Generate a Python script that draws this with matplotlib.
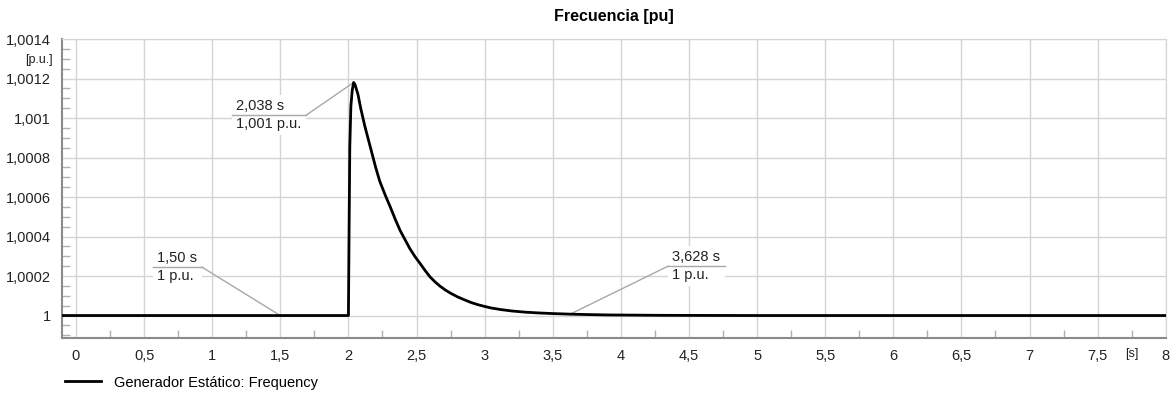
import matplotlib
matplotlib.use('Agg')
import matplotlib.pyplot as plt
from matplotlib.patches import Rectangle
import matplotlib.transforms as mtransforms

plt.rcParams['font.family'] = ['Liberation Sans', 'DejaVu Sans']

# datos
tiempo = [-0.1, 2.0, 2.004, 2.010, 2.018, 2.028, 2.038, 2.048, 2.07, 2.09, 2.12, 2.16,
          2.20, 2.23, 2.27, 2.31, 2.345, 2.38, 2.415, 2.45, 2.49, 2.53, 2.565, 2.60,
          2.635, 2.67, 2.71, 2.75, 2.80, 2.85, 2.90, 2.95, 3.0, 3.05, 3.12, 3.2, 3.3,
          3.4, 3.5, 3.628, 3.75, 3.9, 4.1, 4.3, 4.6, 5.0, 8.0]
frec = [1.0, 1.0, 1.00035, 1.00085, 1.00106, 1.00114, 1.00118, 1.00117, 1.00112,
        1.00105, 1.00096, 1.000855, 1.00075, 1.00068, 1.00061, 1.000545, 1.000485,
        1.00043, 1.000385, 1.00034, 1.000297, 1.00026, 1.000226, 1.000195, 1.000171,
        1.00015, 1.00013, 1.000113, 1.000095, 1.00008, 1.000066, 1.000055, 1.000046,
        1.000038, 1.00003, 1.000023, 1.000017, 1.000013, 1.00001, 1.000007, 1.000005,
        1.000003, 1.000002, 1.000001, 1.0000005, 1.0, 1.0]

x_ticks = [0, 0.5, 1, 1.5, 2, 2.5, 3, 3.5, 4, 4.5, 5, 5.5, 6, 6.5, 7, 7.5, 8]
x_labels = ['0', '0,5', '1', '1,5', '2', '2,5', '3', '3,5', '4', '4,5', '5', '5,5',
            '6', '6,5', '7', '7,5', '8']
y_ticks = [1.0, 1.0002, 1.0004, 1.0006, 1.0008, 1.001, 1.0012, 1.0014]
y_labels = ['1', '1,0002', '1,0004', '1,0006', '1,0008', '1,001', '1,0012', '1,0014']

# etiquetas de los puntos marcados: (t, valor, texto tiempo, texto valor)
marcas = [(1.5, 1.0, '1,50 s', '1 p.u.'),
          (2.038, 1.00118, '2,038 s', '1,001 p.u.'),
          (3.628, 1.000007, '3,628 s', '1 p.u.')]
# caja de cada etiqueta: x0, x1, y de la línea, lado del conector
cajas = [(0.565, 0.925, 1.000245, 'der'),
         (1.145, 1.689, 1.001014, 'der'),
         (4.347, 4.765, 1.00025, 'izq')]

fig = plt.figure(figsize=(11.75, 3.94), dpi=100)
ax = fig.add_axes([0.0525, 0.142, 0.9396, 0.759])

gris_grid = '#d4d4d4'
ax.set_xlim(-0.105, 8)
ax.set_ylim(0.999886, 1.0014)
ax.set_xticks(x_ticks)
ax.set_xticklabels(x_labels)
ax.set_yticks(y_ticks)
ax.set_yticklabels(y_labels)
ax.set_xticks([v + 0.25 for v in x_ticks[:-1]], minor=True)
ax.set_yticks([1.0 + i * 0.00005 for i in range(-2, 29) if i % 4 != 0], minor=True)
ax.tick_params(which='major', length=0, labelsize=10.5, labelcolor='#222222')
ax.tick_params(axis='y', which='major', pad=8)
ax.tick_params(axis='x', which='major', pad=8)
ax.tick_params(which='minor', direction='in', length=6, color='#b0b0b0', width=1)
ax.grid(True, color=gris_grid, linewidth=1)
ax.set_axisbelow(True)
for lado in ['top', 'right']:
    ax.spines[lado].set_color(gris_grid)
for lado in ['left', 'bottom']:
    ax.spines[lado].set_color('#8a8a8a')
    ax.spines[lado].set_linewidth(1.5)

ax.plot(tiempo, frec, color='black', linewidth=2, label='Generador Estático: Frequency',
        zorder=5)

for (t, v, txt_t, txt_v), (x0, x1, ym, lado) in zip(marcas, cajas):
    ax.add_patch(Rectangle((x0, ym - 0.0001), x1 - x0, 0.0002, facecolor='white',
                           edgecolor='none', zorder=3))
    ax.plot([x0, x1], [ym, ym], color='#a8a8a8', linewidth=1, zorder=4)
    xc = x1 if lado == 'der' else x0
    ax.plot([xc, t], [ym, v], color='#a8a8a8', linewidth=1, zorder=4)
    ax.text(x0 + 0.03, ym + 0.00001, txt_t, ha='left', va='bottom', fontsize=10.5,
            color='#222222', zorder=6)
    ax.text(x0 + 0.03, ym - 0.00001, txt_v, ha='left', va='top', fontsize=10.5,
            color='#222222', zorder=6)

# unidades de los ejes
trans_x = mtransforms.blended_transform_factory(ax.transData, ax.transAxes)
ax.text(7.75, -0.055, '[s]', transform=trans_x, ha='center', va='center', fontsize=9,
        color='#222222')
trans_y = mtransforms.blended_transform_factory(ax.transAxes, ax.transData)
ax.text(-0.008, 1.001293, '[p.u.]', transform=trans_y, ha='right', va='center',
        fontsize=9, color='#222222')

ax.set_title('Frecuencia [pu]', fontsize=11.5, fontweight='bold', pad=13)

fig.legend(loc='lower left', bbox_to_anchor=(0.044, -0.022), frameon=False, fontsize=10.5,
           handlelength=2.5, handletextpad=0.9)

fig.savefig('out.png', dpi=100)
